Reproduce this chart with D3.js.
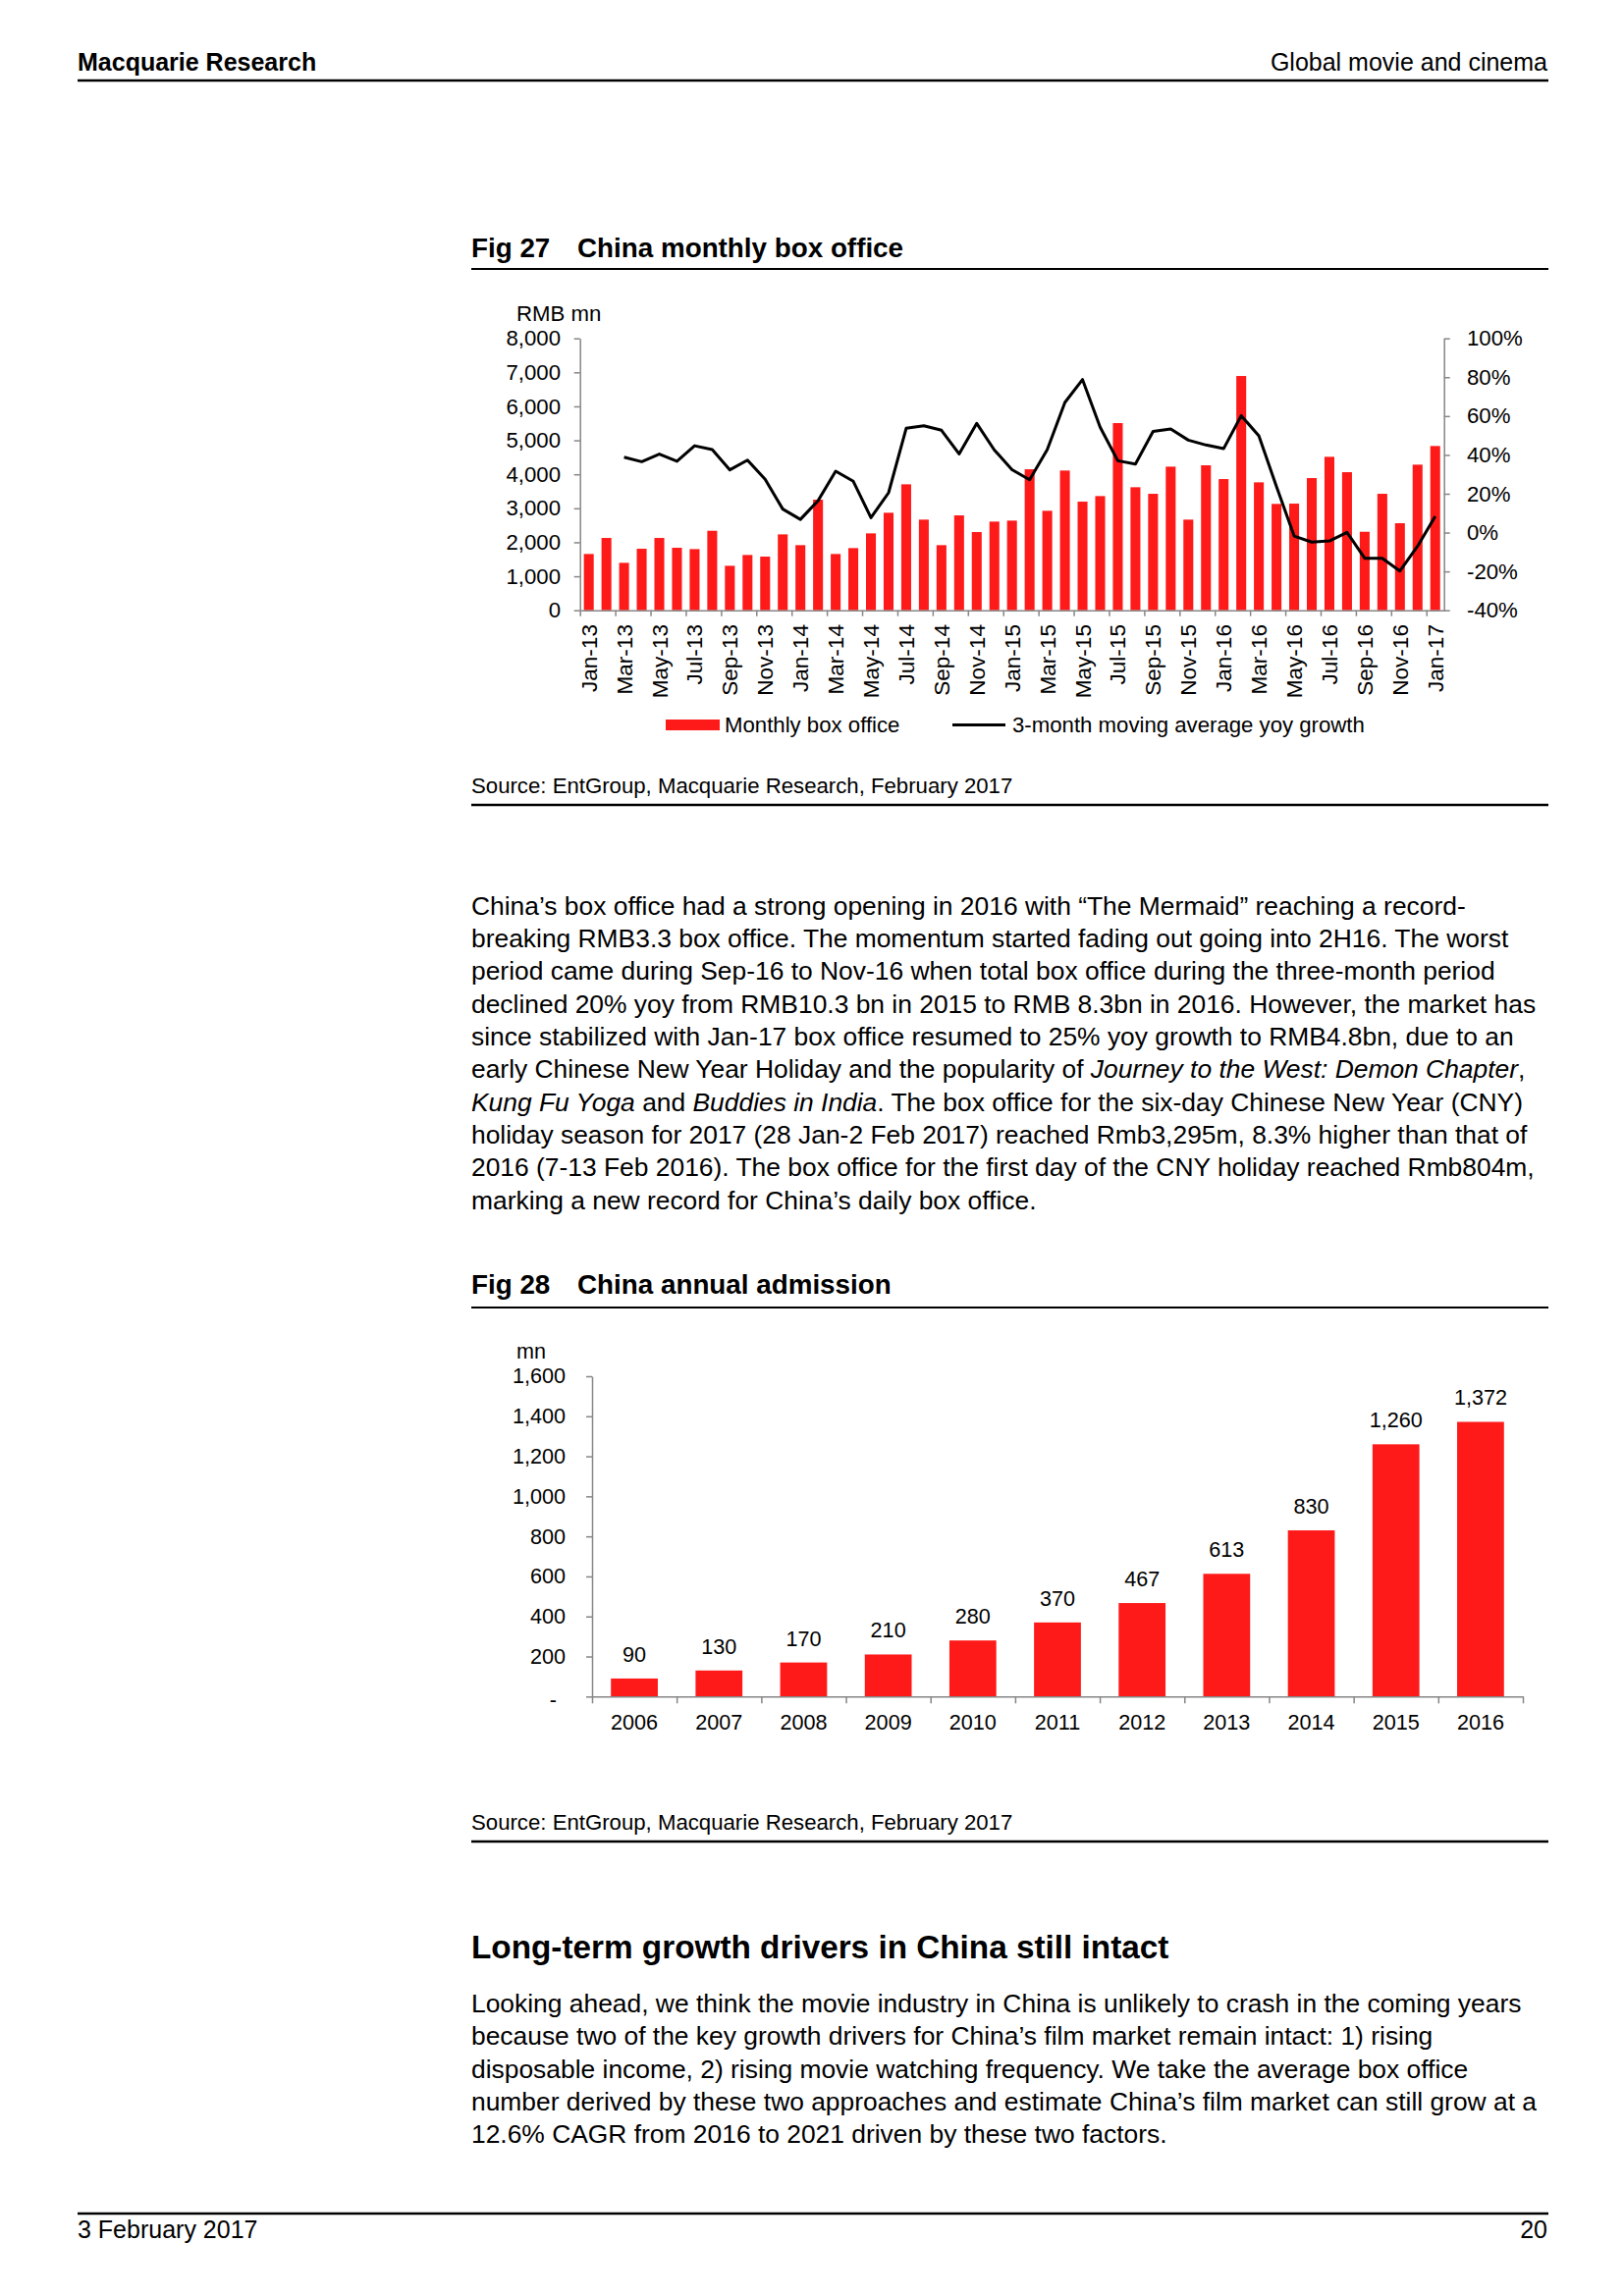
<!DOCTYPE html>
<html><head><meta charset="utf-8">
<script src="https://cdn.jsdelivr.net/npm/d3@7"></script>
<style>
body{margin:0;background:#fff}
svg{display:block}
</style>
</head><body><div id="page"></div>
<script>
// ---------- DATA ----------
const months = ["Jan-13","Feb-13","Mar-13","Apr-13","May-13","Jun-13","Jul-13","Aug-13","Sep-13","Oct-13","Nov-13","Dec-13",
"Jan-14","Feb-14","Mar-14","Apr-14","May-14","Jun-14","Jul-14","Aug-14","Sep-14","Oct-14","Nov-14","Dec-14",
"Jan-15","Feb-15","Mar-15","Apr-15","May-15","Jun-15","Jul-15","Aug-15","Sep-15","Oct-15","Nov-15","Dec-15",
"Jan-16","Feb-16","Mar-16","Apr-16","May-16","Jun-16","Jul-16","Aug-16","Sep-16","Oct-16","Nov-16","Dec-16",
"Jan-17"];
const boxOffice = [1656,2128,1396,1810,2128,1839,1800,2339,1309,1627,1579,2233,
1916,3254,1656,1829,2262,2869,3706,2667,1916,2792,2301,2609,
2638,4149,2927,4111,3196,3360,5507,3620,3427,4226,2667,4265,
3860,6893,3764,3129,3138,3889,4515,4063,2310,3427,2561,4284,
4833];
const yoyGrowth = [null,null,38.8,36.5,40.4,36.7,44.7,42.7,32.3,37.3,27.4,12.1,
6.8,16.4,31.6,26.4,7.7,20.5,53.7,55.0,52.7,40.5,56.2,42.5,
32.4,27.2,42.7,67.0,78.8,54.2,37.0,35.3,52.1,53.3,47.6,45.1,
43.2,60.2,49.8,23.7,-1.8,-4.9,-4.3,0.1,-13.2,-13.2,-19.8,-7.0,
8.4];
const boxTicks = [0,1000,2000,3000,4000,5000,6000,7000,8000];
const pctTicks = [-40,-20,0,20,40,60,80,100];
const seriesNames = ["Monthly box office","3-month moving average yoy growth"];

const years = ["2006","2007","2008","2009","2010","2011","2012","2013","2014","2015","2016"];
const admissions = [90,130,170,210,280,370,467,613,830,1260,1372];
const admTicks = [0,200,400,600,800,1000,1200,1400,1600];

const para1 = [
"China\u2019s box office had a strong opening in 2016 with \u201cThe Mermaid\u201d reaching a record-",
"breaking RMB3.3 box office. The momentum started fading out going into 2H16. The worst",
"period came during Sep-16 to Nov-16 when total box office during the three-month period",
"declined 20% yoy from RMB10.3 bn in 2015 to RMB 8.3bn in 2016. However, the market has",
"since stabilized with Jan-17 box office resumed to 25% yoy growth to RMB4.8bn, due to an",
"early Chinese New Year Holiday and the popularity of *Journey to the West: Demon Chapter*,",
"*Kung Fu Yoga* and *Buddies in India*. The box office for the six-day Chinese New Year (CNY)",
"holiday season for 2017 (28 Jan-2 Feb 2017) reached Rmb3,295m, 8.3% higher than that of",
"2016 (7-13 Feb 2016). The box office for the first day of the CNY holiday reached Rmb804m,",
"marking a new record for China\u2019s daily box office."
];
const para2 = [
"Looking ahead, we think the movie industry in China is unlikely to crash in the coming years",
"because two of the key growth drivers for China\u2019s film market remain intact: 1) rising",
"disposable income, 2) rising movie watching frequency. We take the average box office",
"number derived by these two approaches and estimate China\u2019s film market can still grow at a",
"12.6% CAGR from 2016 to 2021 driven by these two factors."
];

// ---------- PAGE ----------
const FONT = '"Liberation Sans", Arial, Helvetica, sans-serif';
const RED = "#ff1a1a";
const AXIS = "#868686";
const svg = d3.select("#page").append("svg").attr("width",1654).attr("height",2339)
  .attr("font-family",FONT);
svg.append("rect").attr("width",1654).attr("height",2339).attr("fill","#fff");

function txt(x,y,s,size,opt={}){
  return svg.append("text").attr("x",x).attr("y",y).attr("font-size",size)
    .attr("font-weight",opt.bold?"bold":"normal").attr("text-anchor",opt.anchor||"start")
    .attr("fill","#000").text(s);
}
function rule(x1,x2,y,w){
  svg.append("line").attr("x1",x1).attr("x2",x2).attr("y1",y).attr("y2",y)
    .attr("stroke","#000").attr("stroke-width",w);
}
function paragraph(lines,x,y0,lh,size){
  lines.forEach((ln,i)=>{
    const t = svg.append("text").attr("x",x).attr("y",y0+i*lh).attr("font-size",size).attr("fill","#000")
      .attr("xml:space","preserve");
    ln.split("*").forEach((seg,j)=>{
      if(seg.length) t.append("tspan").attr("font-style", j%2 ? "italic":"normal").text(seg);
    });
  });
}

// header & footer
txt(79,72,"Macquarie Research",25,{bold:true});
txt(1576,72,"Global movie and cinema",25,{anchor:"end"});
rule(79,1577,82,2.5);
rule(79,1577,2255,2.5);
txt(79,2280,"3 February 2017",25);
txt(1576,2280,"20",25,{anchor:"end"});

// ---------- FIG 27 ----------
txt(480,262,"Fig 27",27.8,{bold:true});
txt(588,262,"China monthly box office",27.8,{bold:true});
rule(480,1577,274,2);

const L=590.7, R=1470.7, T=344.7, B=621.7;
const x = d3.scaleBand().domain(months).range([L,R]).paddingInner(0.44).paddingOuter(0.22);
const xi = d3.scaleLinear().domain([0,months.length]).range([L,R]);
const yL = d3.scaleLinear().domain([0,8000]).range([B,T]);
const yR = d3.scaleLinear().domain([-40,100]).range([B,T]);
const g1 = svg.append("g");

g1.selectAll("rect.bar").data(boxOffice).join("rect").attr("class","bar")
  .attr("x",(d,i)=>x(months[i])).attr("width",x.bandwidth())
  .attr("y",d=>yL(d)).attr("height",d=>B-yL(d)).attr("fill",RED);

function styleAxis(a,size){
  a.attr("font-family",FONT).attr("font-size",size);
  a.select(".domain").attr("stroke",AXIS).attr("stroke-width",1.5);
  a.selectAll(".tick line").attr("stroke",AXIS).attr("stroke-width",1.5);
  a.selectAll(".tick text").attr("fill","#000");
}
const axL = g1.append("g").attr("transform",`translate(${L},0)`)
  .call(d3.axisLeft(yL).tickValues(boxTicks).tickSize(6).tickSizeOuter(0).tickPadding(13.7).tickFormat(d3.format(",")));
styleAxis(axL,22.2);
const axR = g1.append("g").attr("transform",`translate(${R},0)`)
  .call(d3.axisRight(yR).tickValues(pctTicks).tickSize(6).tickSizeOuter(0).tickPadding(17.3).tickFormat(d=>d+"%"));
styleAxis(axR,22.2);
const axB = g1.append("g").attr("transform",`translate(0,${B})`)
  .call(d3.axisBottom(xi).tickValues(d3.range(0,months.length,2)).tickSize(6).tickSizeOuter(0).tickFormat(""));
styleAxis(axB,22.2);

g1.selectAll("text.xl").data(months.filter((d,i)=>i%2===0)).join("text").attr("class","xl")
  .attr("transform",d=>`translate(${x(d)+x.bandwidth()/2+8},636) rotate(-90)`)
  .attr("text-anchor","end").attr("font-size",22.6).attr("fill","#000").text(d=>d);

const line = d3.line().defined(d=>d!=null)
  .x((d,i)=>x(months[i])+x.bandwidth()/2).y(d=>yR(d));
g1.append("path").datum(yoyGrowth).attr("d",line).attr("fill","none")
  .attr("stroke","#000").attr("stroke-width",3).attr("stroke-linejoin","round");

txt(526,326.7,"RMB mn",22.2);

// legend
svg.append("rect").attr("x",678).attr("y",733).attr("width",55).attr("height",11).attr("fill",RED);
txt(738,746,seriesNames[0],22.2);
svg.append("line").attr("x1",970).attr("x2",1024).attr("y1",738.5).attr("y2",738.5).attr("stroke","#000").attr("stroke-width",3);
txt(1031,746,seriesNames[1],22.2);

txt(480,808,"Source: EntGroup, Macquarie Research, February 2017",22.2);
rule(480,1577,820,2.5);

// ---------- BODY 1 ----------
paragraph(para1,480,931.7,33.33,26.4);

// ---------- FIG 28 ----------
txt(480,1318,"Fig 28",27.8,{bold:true});
txt(588,1318,"China annual admission",27.8,{bold:true});
rule(480,1577,1332,2);

const L2=603, R2=1551, T2=1402, B2=1728.3;
const x2 = d3.scaleBand().domain(years).range([L2,R2]).paddingInner(0.446).paddingOuter(0.223);
const x2i = d3.scaleLinear().domain([0,years.length]).range([L2,R2]);
const y2 = d3.scaleLinear().domain([0,1600]).range([B2,T2]);
const g2 = svg.append("g");

g2.selectAll("rect.bar2").data(admissions).join("rect").attr("class","bar2")
  .attr("x",(d,i)=>x2(years[i])).attr("width",x2.bandwidth())
  .attr("y",d=>y2(d)).attr("height",d=>B2-y2(d)).attr("fill",RED);

const ax2L = g2.append("g").attr("transform",`translate(${L2},0)`)
  .call(d3.axisLeft(y2).tickValues(admTicks).tickSize(6).tickSizeOuter(0).tickPadding(21)
    .tickFormat(d=>d===0?"-":d3.format(",")(d)));
styleAxis(ax2L,21.6);
ax2L.selectAll(".tick text").filter(d=>d===0).attr("dx",-9).attr("dy","0.45em");
const ax2B = g2.append("g").attr("transform",`translate(0,${B2})`)
  .call(d3.axisBottom(x2i).tickValues(d3.range(0,years.length+1)).tickSize(7).tickSizeOuter(0).tickFormat(""));
styleAxis(ax2B,21.6);

g2.selectAll("text.yr").data(years).join("text").attr("class","yr")
  .attr("x",d=>x2(d)+x2.bandwidth()/2).attr("y",1761.7).attr("text-anchor","middle")
  .attr("font-size",21.6).attr("fill","#000").text(d=>d);
g2.selectAll("text.val").data(admissions).join("text").attr("class","val")
  .attr("x",(d,i)=>x2(years[i])+x2.bandwidth()/2).attr("y",d=>y2(d)-17).attr("text-anchor","middle")
  .attr("font-size",21.6).attr("fill","#000").text(d=>d3.format(",")(d));

txt(526,1384,"mn",21.6);

txt(480,1864,"Source: EntGroup, Macquarie Research, February 2017",22.2);
rule(480,1577,1876,2.5);

// ---------- SECTION ----------
txt(480,1995,"Long-term growth drivers in China still intact",33.3,{bold:true});
paragraph(para2,480,2050,33.33,26.4);
</script>
</body></html>
